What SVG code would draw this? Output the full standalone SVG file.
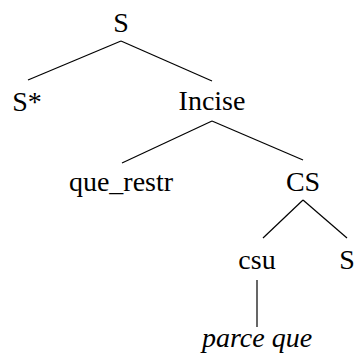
<svg xmlns="http://www.w3.org/2000/svg" width="354" height="358" viewBox="0 0 354 358">
<style>
line{stroke:#000;stroke-width:1.2}
</style>
<rect width="354" height="358" fill="#fff"/>
<g id="connectors">
<line x1="121" y1="41" x2="28" y2="80"/>
<line x1="121" y1="41" x2="212" y2="81"/>
<line x1="212" y1="121" x2="122" y2="163"/>
<line x1="212" y1="121" x2="303" y2="160"/>
<line x1="303" y1="200" x2="263" y2="238"/>
<line x1="303" y1="200" x2="347" y2="238"/>
<line x1="257" y1="280" x2="257" y2="327"/>
</g>
<g style="font-family:'Liberation Serif';font-size:28px;text-anchor:middle;fill:#000">
<g id="n_S"><text x="121" y="32">S</text></g>
<g id="n_Sstar"><text x="27" y="111">S*</text></g>
<g id="n_Incise"><text x="212" y="110">Incise</text></g>
<g id="n_que_restr"><text x="121" y="191">que_restr</text></g>
<g id="n_CS"><text x="303" y="191">CS</text></g>
<g id="n_csu"><text x="257" y="269">csu</text></g>
<g id="n_S2"><text x="347" y="269">S</text></g>
<g id="n_parceque"><text x="257" y="347" style="font-style:italic">parce que</text></g>
</g>
</svg>
